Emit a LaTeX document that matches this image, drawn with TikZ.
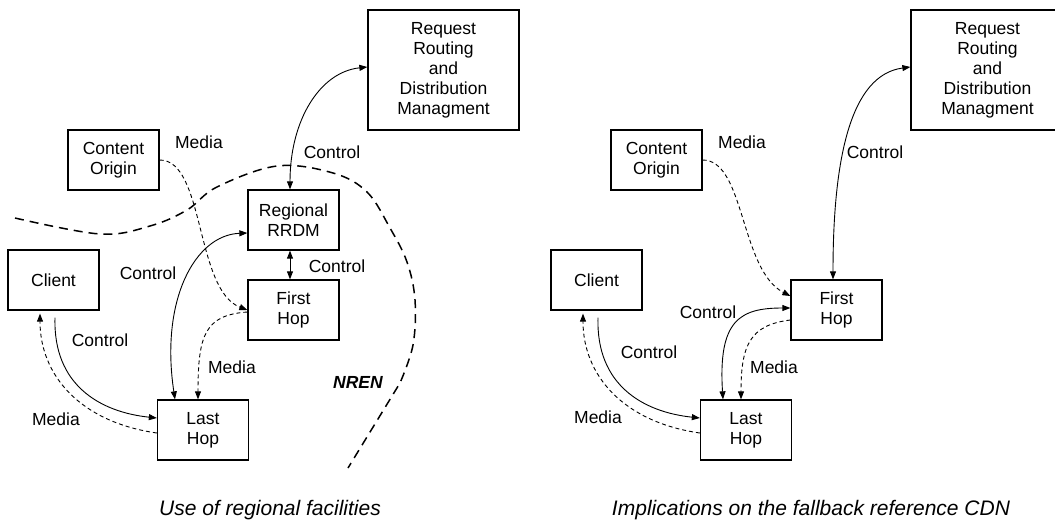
\documentclass[tikz,border=0pt]{standalone}
\usepackage{fontspec}
\setmainfont{Liberation Sans}
\usetikzlibrary{arrows.meta,calc}
\newcommand\dgfont{\fontsize{17.5}{20}\selectfont}
\newcommand\capfont{\fontsize{21}{24}\selectfont}
\begin{document}
\begin{tikzpicture}[x=1pt,y=-1pt,
  box/.style={draw, line width=1.3pt, minimum width=91pt, minimum height=60pt,
    inner sep=0pt, align=center, font=\dgfont},
  bigbox/.style={box, minimum width=151pt, minimum height=120pt},
  lbl/.style={font=\dgfont, inner sep=0pt},
  caption/.style={font=\capfont\itshape, inner sep=0pt},
  tip/.style={-{Triangle[length=8pt,width=6pt]}},
  bitip/.style={{Triangle[length=8pt,width=6pt]}-{Triangle[length=8pt,width=6pt]}},
  ctrl/.style={line width=0.9pt},
  media/.style={line width=0.9pt, dash pattern=on 4pt off 3pt},
  region/.style={line width=1.5pt, dash pattern=on 9pt off 6pt}]
\useasboundingbox (0,0) rectangle (1055,522);
\clip (0,0) rectangle (1055,522);

% ---------- left: use of regional facilities ----------
\node[bigbox] (rr)   at (443.5,70)  {Request\\Routing\\and\\Distribution\\Managment};
\node[box]    (co)   at (113.5,160) {Content\\Origin};
\node[box]    (rrdm) at (293.5,220) {Regional\\RRDM};
\node[box]    (cl)   at (53.5,280)  {Client};
\node[box]    (fh)   at (293.5,310) {First\\Hop};
\node[box]    (lh)   at (203,430)   {Last\\Hop};

\draw[ctrl,bitip] ($(rrdm.north)+(-3.5,0)$) .. controls (290,120) and (320,72) .. ($(rr.west)+(0,-3)$);
\draw[media,tip] (co.east) .. controls (205,160) and (195,290) .. (fh.west);
\draw[ctrl,bitip] ($(lh.north)+(-28,0)$) .. controls (160,300) and (195,235) .. ($(rrdm.west)+(0,13)$);
\draw[ctrl,bitip] ($(rrdm.south)+(-3.5,0)$) -- ($(fh.north)+(-3.5,0)$);
\draw[media,tip] ($(fh.west)+(0,2)$) .. controls (205,315) and (198,335) .. ($(lh.north)+(-5,0)$);
\draw[ctrl,tip] ($(cl.south)+(1.5,7)$) .. controls (53,385) and (100,412) .. ($(lh.west)+(0,-12)$);
\draw[media,tip] ($(lh.west)+(0,3)$) .. controls (80,422) and (40,375) .. ($(cl.south)+(-13.5,3)$);

% NREN boundary
\draw[region] plot[smooth, tension=0.6] coordinates {(15,218) (100,234) (150,226) (187,210) (217,187) (277,166) (333,173) (367,192) (390,228) (407,262) (415,300) (413,345) (400,383)} -- (348,468);

\node[lbl] (m1) at (199,142) {Media};
\node[lbl] (c1) at (332,152) {Control};
\node[lbl] (c2) at (148,273) {Control};
\node[lbl] (c3) at (337,266) {Control};
\node[lbl] (c4) at (100,340) {Control};
\node[lbl] (m2) at (56,419)  {Media};
\node[lbl] (m3) at (232,367) {Media};
\node[lbl, font=\dgfont\bfseries\itshape] (nren) at (358,382) {NREN};
\node[caption] (cap1) at (270,510) {Use of regional facilities};

% ---------- right: fallback reference CDN ----------
\node[bigbox, minimum width=153pt] (rr2) at (987.5,70)  {Request\\Routing\\and\\Distribution\\Managment};
\node[box]    (co2) at (656.5,160) {Content\\Origin};
\node[box]    (cl2) at (596.5,280) {Client};
\node[box]    (fh2) at (836.5,310) {First\\Hop};
\node[box]    (lh2) at (746,430)   {Last\\Hop};

\draw[ctrl,bitip] ($(fh2.north)+(-3.5,0)$) .. controls (833,160) and (850,75) .. ($(rr2.west)+(0,-3)$);
\draw[media,tip] (co2.east) .. controls (745,160) and (740,270) .. ($(fh2.west)+(0,-14)$);
\draw[ctrl,bitip] ($(lh2.north)+(-23,0)$) .. controls (718,320) and (740,308) .. ($(fh2.west)+(0,-2)$);
\draw[media,tip] ($(fh2.west)+(0,10)$) .. controls (750,325) and (741,345) .. ($(lh2.north)+(-5,0)$);
\draw[ctrl,tip] ($(cl2.south)+(1.5,7)$) .. controls (596,385) and (643,412) .. ($(lh2.west)+(0,-12)$);
\draw[media,tip] ($(lh2.west)+(0,3)$) .. controls (623,422) and (583,375) .. ($(cl2.south)+(-13.5,3)$);

\node[lbl] (m4) at (742,142) {Media};
\node[lbl] (c5) at (875,152) {Control};
\node[lbl] (c6) at (708,312) {Control};
\node[lbl] (c7) at (649,352) {Control};
\node[lbl] (m5) at (598,417) {Media};
\node[lbl] (m6) at (774,367) {Media};
\node[caption] (cap2) at (811,510) {Implications on the fallback reference CDN};
\end{tikzpicture}
\end{document}
